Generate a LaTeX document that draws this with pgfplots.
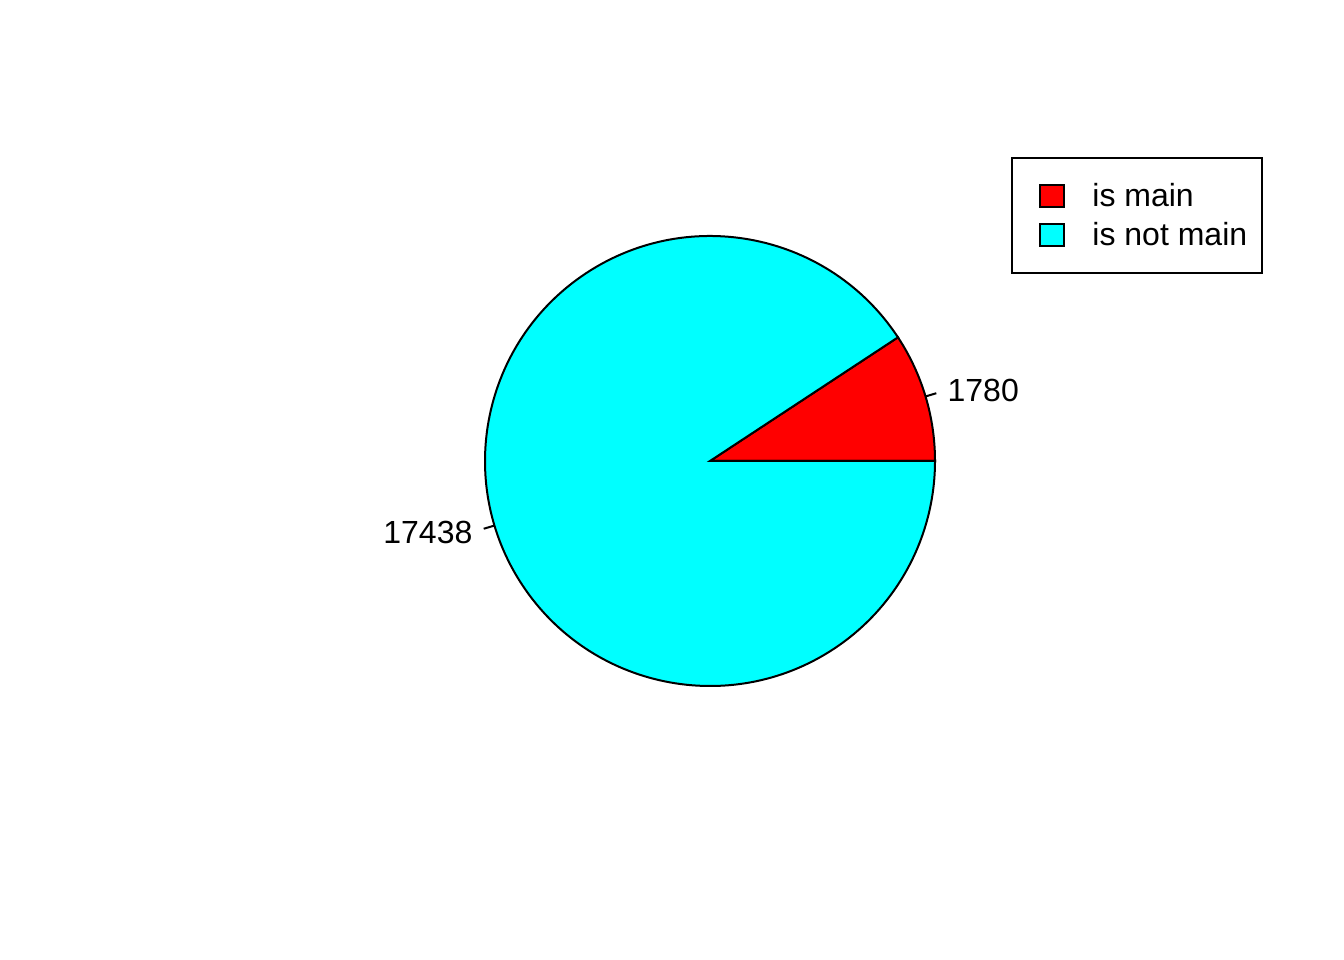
\documentclass[border=0pt]{standalone}
\usepackage{pgfplots}
\usepackage{pgfplotstable}
\usepackage{fontspec}
\setmainfont{Liberation Sans}
\pgfplotsset{compat=1.18}
\definecolor{rred}{RGB}{255,0,0}
\definecolor{rcyan}{RGB}{0,255,255}

% slice counts, in R's order (counter-clockwise from 0 degrees)
\pgfplotstableread[col sep=comma]{
label,count
is main,1780
is not main,17438
}\piedata

\begin{document}
\begin{tikzpicture}[font=\fontsize{12bp}{14bp}\selectfont]
\pgfplotstablegetelem{0}{count}\of\piedata \edef\na{\pgfplotsretval}
\pgfplotstablegetelem{1}{count}\of\piedata \edef\nb{\pgfplotsretval}
% counts exceed pgfmath's range, so use the kernel's fp
\edef\angA{\fpeval{round(360*\na/(\na+\nb),4)}}
\edef\midA{\fpeval{\angA/2}}
\edef\midB{\fpeval{\angA+(360-\angA)/2}}
\begin{axis}[
    hide axis, scale only axis,
    width=7in, height=5in,
    xmin=-3.1556, xmax=2.8178,
    ymin=-2.2178, ymax=2.0489,
    clip=false,
    legend cell align=left,
    legend image code/.code={\path (0bp,0bp); \filldraw[#1] (4.6bp,-4.1bp) rectangle (13.6bp,4.1bp);},
    legend style={
        at={(axis cs:1.338,1.351)}, anchor=north west,
        draw=black, line width=0.75bp,
        inner xsep=5.4bp, inner ysep=7bp,
        column sep=10.4bp, row sep=0pt,
        font=\fontsize{12bp}{14bp}\selectfont,
        nodes={inner sep=0pt, text height=11.1bp, text depth=3.5bp},
    },
]
\path (rel axis cs:0,0) rectangle (rel axis cs:1,1);
\addlegendimage{fill=rred, draw=black, line width=0.75bp}
\addlegendentry{is main}
\addlegendimage{fill=rcyan, draw=black, line width=0.75bp}
\addlegendentry{is not main}

\filldraw[fill=rred, draw=black, line width=0.75bp]
  (axis cs:0,0) -- (axis cs:1,0) arc[start angle=0, end angle=\angA, radius=1] -- cycle;
\filldraw[fill=rcyan, draw=black, line width=0.75bp]
  (axis cs:0,0) -- (axis cs:{cos(\angA)},{sin(\angA)}) arc[start angle=\angA, end angle=360, radius=1] -- cycle;

\draw[line width=0.75bp] (axis cs:{cos(\midA)},{sin(\midA)}) -- (axis cs:{1.05*cos(\midA)},{1.05*sin(\midA)});
\node[anchor=west, inner sep=0pt] at (axis cs:{1.1*cos(\midA)},{1.1*sin(\midA)}) {\na};
\draw[line width=0.75bp] (axis cs:{cos(\midB)},{sin(\midB)}) -- (axis cs:{1.05*cos(\midB)},{1.05*sin(\midB)});
\node[anchor=east, inner sep=0pt] at (axis cs:{1.1*cos(\midB)},{1.1*sin(\midB)}) {\nb};
\end{axis}
\end{tikzpicture}
\end{document}
